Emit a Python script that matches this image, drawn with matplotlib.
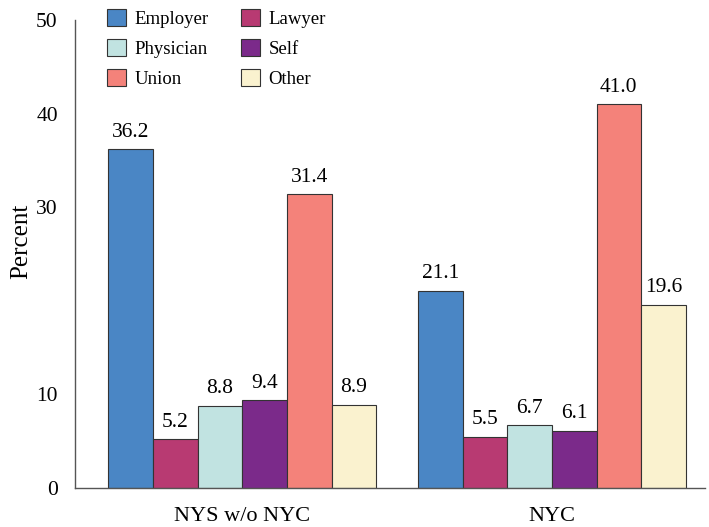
import matplotlib
matplotlib.use("Agg")
import matplotlib.pyplot as plt
import numpy as np

groups = ["NYS w/o NYC", "NYC"]
categories = ["Employer", "Lawyer", "Physician", "Self", "Union", "Other"]
values = {
    "Employer": [36.2, 21.1],
    "Lawyer": [5.2, 5.5],
    "Physician": [8.8, 6.7],
    "Self": [9.4, 6.1],
    "Union": [31.4, 41.0],
    "Other": [8.9, 19.6],
}
colors = ["#4a86c5", "#b83a72", "#c1e3e1", "#7b2a8a", "#f4827a", "#faf2cf"]
yticks = [0, 10, 30, 40, 50]

plt.rcParams['font.family'] = ['Liberation Serif', 'DejaVu Serif']

fig = plt.figure(figsize=(7.09, 5.27), dpi=100)
ax = fig.add_axes([0.106, 0.074, 0.888, 0.888])

x = np.arange(len(groups))
w = 0.1443
n = len(categories)
handles = []
for i, (cat, col) in enumerate(zip(categories, colors)):
    pos = x + (i - (n - 1) / 2) * w
    b = ax.bar(pos, values[cat], width=w, color=col, edgecolor="#333333",
               linewidth=0.8, label=cat)
    handles.append(b)
    for px, v in zip(pos, values[cat]):
        ax.text(px, v + 0.8, f"{v:.1f}", ha="center", va="bottom", fontsize=15.5)

ax.set_xlim(-0.54, 1.494)
ax.set_ylim(0, 50)
ax.set_yticks(yticks)
ax.set_yticklabels([str(t) for t in yticks], fontsize=15.5)
ax.set_xticks(x)
ax.set_xticklabels(groups, fontsize=16)
ax.tick_params(axis="x", length=0, pad=14)
ax.tick_params(axis="y", length=0, pad=12.5)
ax.set_ylabel("Percent", fontsize=18)
ax.yaxis.set_label_coords(-0.068, 0.526)
for s in ["top", "right"]:
    ax.spines[s].set_visible(False)
for s in ["left", "bottom"]:
    ax.spines[s].set_color("#555555")
    ax.spines[s].set_linewidth(1.0)

leg = ax.legend(handles=[handles[0], handles[2], handles[4], handles[1], handles[3], handles[5]],
                labels=["Employer", "Physician", "Union", "Lawyer", "Self", "Other"],
                ncol=2, loc="upper left", bbox_to_anchor=(0.151, 0.982),
                bbox_transform=fig.transFigure, frameon=False, fontsize=13.5,
                handlelength=1.0, handleheight=1.0, handletextpad=0.45,
                columnspacing=1.75, labelspacing=0.58, borderaxespad=0, borderpad=0)

fig.savefig("out.png", dpi=100)
